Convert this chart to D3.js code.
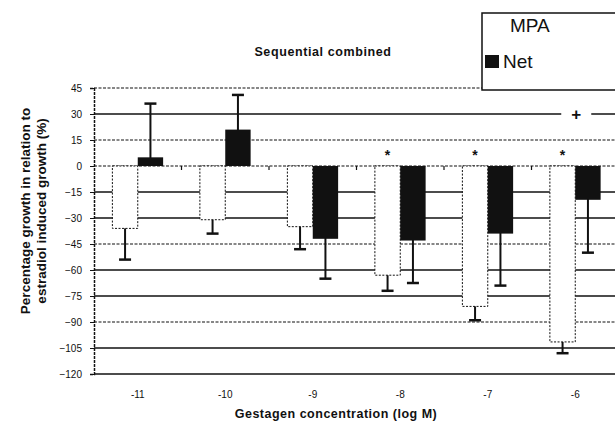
<!DOCTYPE html>
<html>
<head>
<meta charset="utf-8">
<script src="https://cdn.jsdelivr.net/npm/d3@7"></script>
<style>
  body { margin: 0; background: #fff; }
  text { font-family: "Liberation Sans", Arial, sans-serif; fill: #111; }
</style>
</head>
<body>
<svg id="chart" width="615" height="429"></svg>
<script>
// gestagen concentration (log M)
var categories = ["-11", "-10", "-9", "-8", "-7", "-6"];
// percentage growth relative to estradiol induced growth
var mpaValues = [-36, -31, -35, -63, -81, -101.5];
var mpaErrors = [18, 8, 13, 9, 8, 6.5];
var netValues = [5, 21, -42, -43, -39, -19.5];
var netErrors = [31, 20, 23, 24.5, 30, 30.5];
var yTicks = [45, 30, 15, 0, -15, -30, -45, -60, -75, -90, -105, -120];
var mpaStars = ["-8", "-7", "-6"];
var netPlus = ["-6"];
var seriesNames = ["MPA", "Net"];

(function () {
    var svg = d3.select("#chart");
    var left = 94, right = 619, plotTop = 88, plotBottom = 374;

    var x = d3.scaleBand().domain(categories).range([left, right]).paddingInner(0.42).paddingOuter(0.21);
    var xSub = d3.scaleBand().domain(seriesNames).range([0, x.bandwidth()]);
    var y = d3.scaleLinear().domain([-120, 45]).range([plotBottom, plotTop]);

    // grid lines, some scanned solid, some dotted
    var dotted = [45, 15, 0, -45, -90];
    svg.append("g").selectAll("line")
        .data(yTicks)
        .enter().append("line")
        .attr("x1", left).attr("x2", right)
        .attr("y1", function (d) { return y(d) }).attr("y2", function (d) { return y(d) })
        .style("stroke", "#111")
        .style("stroke-width", function (d) { return dotted.indexOf(d) >= 0 ? 1.2 : 1.6 })
        .style("stroke-dasharray", function (d) { return dotted.indexOf(d) >= 0 ? "3,1.5" : null });

    // left axis
    var yAxis = svg.append("g")
        .attr("transform", "translate(" + left + ",0)")
        .call(d3.axisLeft(y).tickValues(yTicks).tickSize(4).tickPadding(8));
    yAxis.select(".domain").style("stroke", "#111").style("stroke-width", 1.5).style("stroke-dasharray", "3,1");
    yAxis.selectAll("line").style("stroke", "#111");
    yAxis.selectAll("text")
        .style("font-size", "10px").style("fill", "#111")
        .style("font-family", "'Liberation Sans Narrow', 'Liberation Sans', sans-serif");

    // small ticks on the zero line between groups
    var bounds = categories.slice(1).map(function (c) { return x(c) - x.step() * x.paddingInner() / 2 });
    svg.append("g").selectAll("line")
        .data(bounds)
        .enter().append("line")
        .attr("x1", function (d) { return d }).attr("x2", function (d) { return d })
        .attr("y1", y(0)).attr("y2", y(0) + 4)
        .style("stroke", "#111").style("stroke-width", 1.2);

    var mpaData = categories.map(function (c, i) { return { c: c, v: mpaValues[i], e: mpaErrors[i], s: "MPA" } });
    var netData = categories.map(function (c, i) { return { c: c, v: netValues[i], e: netErrors[i], s: "Net" } });

    function barX(d) { return x(d.c) + xSub(d.s) }
    function errEnd(d) { return d.v >= 0 ? d.v + d.e : d.v - d.e }

    var all = mpaData.concat(netData);

    // error bars (drawn first so bars cover the inner part)
    var err = svg.append("g").selectAll("g")
        .data(all)
        .enter().append("g");
    err.append("line")
        .attr("x1", function (d) { return barX(d) + xSub.bandwidth() / 2 })
        .attr("x2", function (d) { return barX(d) + xSub.bandwidth() / 2 })
        .attr("y1", y(0)).attr("y2", function (d) { return y(errEnd(d)) })
        .style("stroke", "#111").style("stroke-width", 2);
    err.append("line")
        .attr("x1", function (d) { return barX(d) + xSub.bandwidth() / 2 - 6 })
        .attr("x2", function (d) { return barX(d) + xSub.bandwidth() / 2 + 6 })
        .attr("y1", function (d) { return y(errEnd(d)) }).attr("y2", function (d) { return y(errEnd(d)) })
        .style("stroke", "#111").style("stroke-width", 2.5);

    // bars
    svg.append("g").selectAll("rect")
        .data(all)
        .enter().append("rect")
        .attr("x", barX)
        .attr("width", xSub.bandwidth())
        .attr("y", function (d) { return y(Math.max(0, d.v)) })
        .attr("height", function (d) { return Math.abs(y(d.v) - y(0)) })
        .style("fill", function (d) { return d.s == "MPA" ? "#fff" : "#111" })
        .style("stroke", "#111")
        .style("stroke-width", function (d) { return d.s == "MPA" ? 1 : 0 })
        .style("stroke-dasharray", function (d) { return d.s == "MPA" ? "2,1.5" : null });

    // significance marks
    svg.append("g").selectAll("text")
        .data(mpaStars)
        .enter().append("text")
        .attr("x", function (c) { return x(c) + xSub("MPA") + xSub.bandwidth() / 2 })
        .attr("y", y(8) + 8)
        .attr("text-anchor", "middle")
        .style("font-size", "14px").style("font-weight", "bold")
        .text("*");
    var plus = svg.append("g").selectAll("g")
        .data(netPlus)
        .enter().append("g");
    plus.append("rect")
        .attr("x", function (c) { return x(c) + xSub("Net") - 14 })
        .attr("y", y(30) - 3).attr("width", 30).attr("height", 6)
        .style("fill", "#fff");
    plus.append("text")
        .attr("x", function (c) { return x(c) + xSub("Net") + 1 })
        .attr("y", y(30) + 6)
        .attr("text-anchor", "middle")
        .style("font-size", "17px").style("font-weight", "bold")
        .text("+");

    // bottom axis labels
    svg.append("g").selectAll("text")
        .data(categories)
        .enter().append("text")
        .attr("x", function (c) { return x(c) + x.bandwidth() / 2 })
        .attr("y", 398)
        .attr("text-anchor", "middle")
        .style("font-size", "10px")
        .style("font-family", "'Liberation Sans Narrow', 'Liberation Sans', sans-serif")
        .text(function (c) { return c });

    // titles
    svg.append("text")
        .attr("x", 323).attr("y", 56)
        .attr("text-anchor", "middle")
        .style("font-size", "12.5px").style("font-weight", "bold").style("letter-spacing", "0.6px")
        .text("Sequential combined");
    svg.append("text")
        .attr("x", 336).attr("y", 418)
        .attr("text-anchor", "middle")
        .style("font-size", "12.5px").style("font-weight", "bold").style("letter-spacing", "0.5px")
        .text("Gestagen concentration (log M)");

    var ylab = svg.append("g").attr("transform", "translate(30,211) rotate(-90)");
    ylab.append("text").attr("text-anchor", "middle").attr("y", 0)
        .style("font-size", "13.5px").style("font-weight", "bold")
        .text("Percentage growth in relation to");
    ylab.append("text").attr("text-anchor", "middle").attr("y", 16)
        .style("font-size", "13.5px").style("font-weight", "bold")
        .text("estradiol induced growth (%)");

    // legend
    var legend = svg.append("g").attr("transform", "translate(482,13)");
    legend.append("rect")
        .attr("width", 140).attr("height", 77)
        .style("fill", "#fff").style("stroke", "#111").style("stroke-width", 1.5);
    var items = legend.selectAll("g")
        .data(seriesNames)
        .enter().append("g")
        .attr("transform", function (d, i) { return "translate(0," + (i * 36) + ")" });
    items.filter(function (d) { return d == "Net" }).append("rect")
        .attr("x", 3).attr("y", 6).attr("width", 14).attr("height", 13)
        .style("fill", "#111");
    items.append("text")
        .attr("x", function (d) { return d == "MPA" ? 28 : 21 })
        .attr("y", 19)
        .style("font-size", "19px")
        .text(function (d) { return d });
})();
</script>
</body>
</html>
